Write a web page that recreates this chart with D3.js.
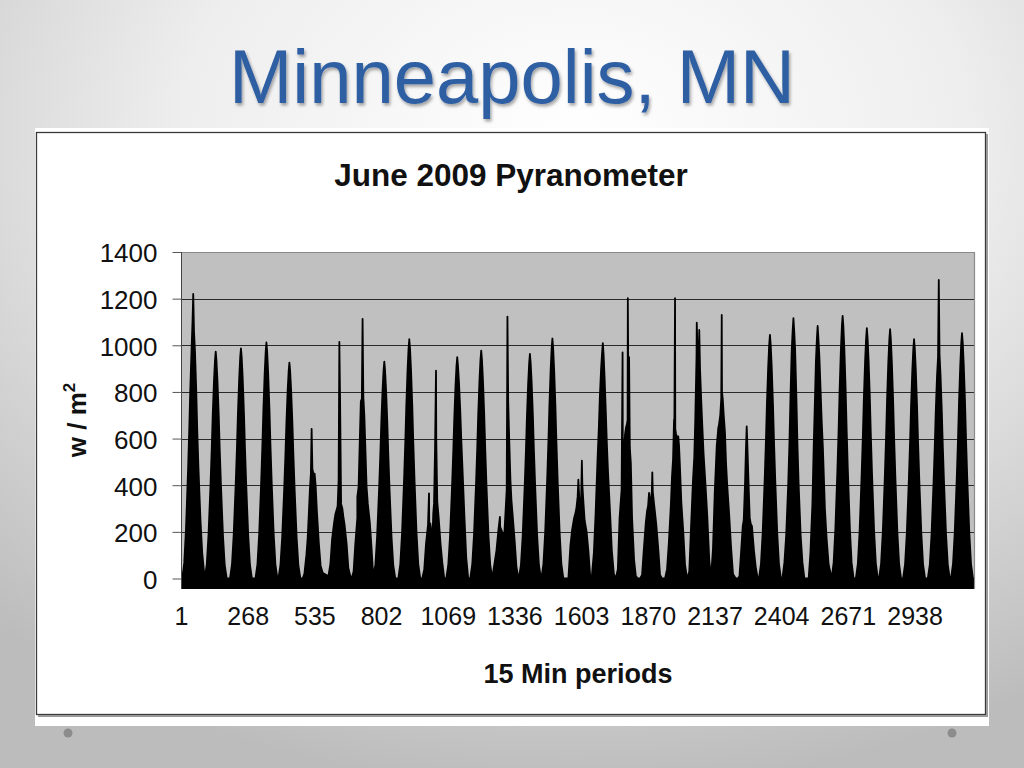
<!DOCTYPE html>
<html>
<head>
<meta charset="utf-8">
<title>Minneapolis, MN</title>
<script src="https://cdnjs.cloudflare.com/ajax/libs/d3/7.8.5/d3.min.js"></script>
<style>
    html, body { margin: 0; padding: 0; background: #fff; overflow: hidden; }
    svg { display: block; }
</style>
</head>
<body>
<div id="slide"></div>
<script>
(function drawSlide (window, d3, undefined) {
    "use strict";

    // category axis: 15 min periods, Excel labels every 267th one
    var xTicks = [1, 268, 535, 802, 1069, 1336, 1603, 1870, 2137, 2404, 2671, 2938],
        yTicks = [0, 200, 400, 600, 800, 1000, 1200, 1400],
        periodCount = 3176;

    // offsets (periods) from each day's peak where the curve was read
    var dayOffsets = [-44, -36, -29, -21, -16, -12, -7, -3, 0, 3, 7, 12, 16, 21, 29, 36, 44];

    // period of the peak of each day
    var dayPeaks = [50, 140, 241, 343, 435, 524, 635, 728, 815, 915, 1011, 1107, 1203, 1308,
        1398, 1488, 1596, 1690, 1786, 1883, 1983, 2072, 2167, 2266, 2359, 2453, 2550, 2650,
        2747, 2840, 2936, 3035, 3128];

    // w / m2 at the offsets above, one row per day
    var dayValues = [
        [0, 67, 213, 459, 638, 806, 974, 1100, 1220, 1060, 974, 806, 638, 470, 250, 110, 20],
        [0, 58, 185, 399, 555, 701, 847, 934, 973, 934, 847, 701, 555, 399, 185, 58, 0],
        [0, 59, 188, 405, 563, 711, 859, 948, 987, 948, 859, 711, 563, 405, 188, 59, 0],
        [0, 61, 192, 415, 577, 729, 880, 972, 1012, 972, 880, 729, 577, 415, 192, 61, 0],
        [0, 56, 176, 380, 528, 667, 806, 889, 926, 889, 806, 667, 528, 380, 176, 56, 0],
        [0, 0, 20, 100, 170, 260, 380, 450, 642, 470, 450, 450, 400, 290, 150, 55, 25],
        [10, 60, 170, 240, 275, 290, 310, 420, 1015, 757, 320, 300, 265, 230, 150, 45, 10],
        [0, 30, 150, 260, 393, 560, 760, 770, 1113, 780, 700, 530, 393, 320, 240, 130, 20],
        [0, 56, 177, 381, 530, 670, 809, 893, 930, 893, 809, 670, 530, 381, 177, 56, 0],
        [0, 62, 195, 421, 585, 739, 893, 985, 1026, 985, 893, 739, 585, 421, 195, 62, 0],
        [0, 40, 150, 230, 236, 236, 200, 180, 280, 320, 550, 600, 330, 270, 150, 70, 0],
        [0, 57, 180, 389, 541, 683, 826, 911, 949, 911, 840, 720, 600, 470, 260, 90, 0],
        [0, 59, 186, 401, 557, 703, 850, 938, 977, 938, 850, 703, 557, 401, 186, 59, 0],
        [120, 210, 220, 200, 190, 200, 300, 380, 1123, 760, 600, 420, 336, 270, 160, 50, 0],
        [0, 58, 183, 395, 549, 693, 838, 924, 963, 924, 838, 693, 549, 395, 183, 58, 0],
        [0, 62, 196, 422, 587, 741, 895, 988, 1029, 988, 895, 741, 587, 422, 196, 62, 0],
        [0, 140, 210, 260, 280, 300, 350, 400, 340, 330, 340, 400, 330, 250, 200, 120, 0],
        [10, 110, 280, 520, 650, 780, 900, 970, 1009, 960, 860, 710, 580, 450, 280, 120, 20],
        [0, 40, 260, 380, 470, 540, 620, 650, 660, 680, 630, 560, 495, 260, 80, 10, 0],
        [0, 15, 125, 240, 290, 310, 330, 330, 350, 370, 370, 320, 281, 230, 125, 15, 0],
        [0, 40, 150, 310, 440, 510, 600, 640, 620, 610, 600, 570, 470, 330, 200, 60, 0],
        [0, 30, 220, 424, 520, 680, 950, 980, 970, 990, 900, 760, 660, 540, 400, 270, 80],
        [0, 130, 370, 570, 630, 660, 700, 770, 800, 770, 700, 624, 500, 400, 270, 140, 20],
        [0, 0, 10, 139, 224, 250, 400, 560, 652, 560, 420, 260, 235, 224, 120, 50, 0],
        [0, 63, 199, 428, 596, 752, 909, 1003, 1045, 1003, 909, 752, 596, 428, 199, 63, 0],
        [0, 70, 185, 400, 580, 770, 975, 1065, 1116, 1065, 975, 770, 580, 400, 185, 70, 0],
        [0, 0, 110, 320, 560, 720, 930, 1030, 1083, 1030, 950, 800, 680, 560, 300, 170, 60],
        [0, 68, 214, 462, 642, 811, 980, 1081, 1126, 1081, 980, 811, 642, 462, 214, 68, 0],
        [0, 64, 204, 440, 612, 773, 934, 1030, 1073, 1030, 934, 773, 612, 440, 204, 64, 0],
        [0, 64, 203, 438, 609, 770, 930, 1026, 1069, 1026, 930, 770, 609, 438, 203, 64, 0],
        [0, 62, 195, 421, 585, 739, 893, 985, 1026, 985, 893, 739, 585, 421, 195, 62, 0],
        [0, 60, 190, 410, 570, 720, 870, 950, 1280, 960, 870, 720, 570, 410, 190, 60, 0],
        [0, 63, 200, 431, 600, 757, 915, 1010, 1052, 1010, 915, 757, 600, 431, 200, 63, 0]
    ];

    // single-period spikes (passing clouds / reflections)
    var spikePeriods = [707, 994, 1022, 1278, 1592, 1606, 1769, 1790, 1795, 1875, 1888,
        1975, 1979, 1992, 2066, 2076, 2152, 2166];
    var spikeValues = [350, 365, 891, 264, 424, 505, 969, 1202, 949, 367, 455,
        681, 1202, 609, 1097, 1066, 645, 1130];

    var width = 1024,
        height = 768,
        plot = {left: 181, right: 974, top: 252, bottom: 589},
        font = "'Liberation Sans', Arial, Helvetica, sans-serif",
        svg, defs, x, y;


    /**
     * Flattens the per-day readings and the spikes into one sorted series
     * @return {Array} [period, value] pairs
     */
    function buildSeries () {
        var pts = [[1, 0], [periodCount, 0]];
        dayPeaks.forEach(function (p, i) {
            dayOffsets.forEach(function (o, k) {
                pts.push([p + o, dayValues[i][k]]);
            });
        });
        spikePeriods.forEach(function (p, i) {
            pts.push([p, spikeValues[i]]);
        });
        return pts.sort(function (a, b) { return a[0] - b[0]; });
    }


    function drawBackground () {
        var bg = defs.append("radialGradient")
            .attr("id", "slideBg")
            .attr("cx", "0.56").attr("cy", "0.18").attr("r", "0.85");
        bg.append("stop").attr("offset", "0").attr("stop-color", "#ffffff");
        bg.append("stop").attr("offset", "0.45").attr("stop-color", "#eeeeee");
        bg.append("stop").attr("offset", "1").attr("stop-color", "#bcbcbc");

        var shadow = defs.append("filter").attr("id", "titleShadow")
            .attr("x", "-10%").attr("y", "-10%").attr("width", "120%").attr("height", "130%");
        shadow.append("feDropShadow")
            .attr("dx", 1.5).attr("dy", 2.5).attr("stdDeviation", 1.6)
            .attr("flood-color", "#000").attr("flood-opacity", 0.35);

        svg.append("rect")
            .attr("width", width).attr("height", height)
            .attr("fill", "url(#slideBg)");

        svg.append("text")
            .attr("x", 512).attr("y", 103)
            .attr("text-anchor", "middle")
            .attr("font-family", font)
            .attr("font-size", 76)
            .attr("fill", "#2f5ea3")
            .attr("filter", "url(#titleShadow)")
            .text("Minneapolis, MN");

        // bullet dots in the lower corners of the theme
        [68, 952].forEach(function (cx) {
            svg.append("circle")
                .attr("cx", cx).attr("cy", 733).attr("r", 4.5)
                .attr("fill", "#8c8c8c");
        });
    }


    function drawFrame () {
        svg.append("rect")
            .attr("x", 35).attr("y", 128)
            .attr("width", 954).attr("height", 598)
            .attr("fill", "#fff");
        svg.append("rect")
            .attr("x", 36.5).attr("y", 132.5)
            .attr("width", 949).attr("height", 582)
            .attr("fill", "none")
            .attr("stroke", "#3a3a3a")
            .attr("stroke-width", 1.3);
        // soft shadow on the right and bottom edge
        svg.append("path")
            .attr("d", "M987,134V716H38")
            .attr("fill", "none")
            .attr("stroke", "#9a9a9a")
            .attr("stroke-width", 2);
    }


    function drawChart () {
        var series = buildSeries(),
            g = svg.append("g"),
            area, line, yAxis, xAxis;

        x = d3.scaleLinear().domain([1, periodCount]).range([plot.left, plot.right]);
        y = d3.scaleLinear().domain([-45, 1400]).range([plot.bottom, plot.top]);

        g.append("rect")
            .attr("x", plot.left).attr("y", plot.top)
            .attr("width", plot.right - plot.left)
            .attr("height", plot.bottom - plot.top)
            .attr("fill", "#c0c0c0");

        g.append("g").selectAll("line")
            .data(yTicks.slice(1, -1))
            .join("line")
            .attr("x1", plot.left).attr("x2", plot.right)
            .attr("y1", function (d) { return Math.round(y(d)) + 0.5; })
            .attr("y2", function (d) { return Math.round(y(d)) + 0.5; })
            .attr("stroke", "#2a2a2a")
            .attr("stroke-width", 1.2);

        area = d3.area()
            .x(function (d) { return x(d[0]); })
            .y0(y(-45))
            .y1(function (d) { return y(d[1]); });
        line = d3.line()
            .x(function (d) { return x(d[0]); })
            .y(function (d) { return y(d[1]); });

        g.append("path")
            .datum(series)
            .attr("d", area)
            .attr("fill", "#000");
        g.append("path")
            .datum(series)
            .attr("d", line)
            .attr("fill", "none")
            .attr("stroke", "#000")
            .attr("stroke-width", 1.8)
            .attr("stroke-linejoin", "round");

        // plot border, top and right
        g.append("path")
            .attr("d", "M" + plot.left + "," + (plot.top + 0.5) + "H" + (plot.right + 0.5) + "V" + plot.bottom)
            .attr("fill", "none")
            .attr("stroke", "#8a8a8a")
            .attr("stroke-width", 1.2);

        yAxis = g.append("g")
            .attr("transform", "translate(" + (plot.left + 0.5) + ",0)")
            .call(d3.axisLeft(y).tickValues(yTicks).tickFormat(d3.format("d"))
                .tickSize(9).tickSizeOuter(0).tickPadding(15));
        yAxis.select(".domain")
            .attr("d", "M0," + plot.top + "V" + plot.bottom)
            .attr("stroke", "#444");
        yAxis.selectAll(".tick line").attr("stroke", "#555");
        yAxis.selectAll(".tick text")
            .attr("dy", "0.38em")
            .attr("font-family", font)
            .attr("font-size", 26)
            .attr("fill", "#111");

        xAxis = g.append("g")
            .attr("transform", "translate(0," + plot.bottom + ")")
            .call(d3.axisBottom(x).tickValues(xTicks).tickFormat(d3.format("d"))
                .tickSize(0).tickPadding(18));
        xAxis.select(".domain").remove();
        xAxis.selectAll(".tick text")
            .attr("font-family", font)
            .attr("font-size", 25)
            .attr("fill", "#111");

        // titles
        svg.append("text")
            .attr("x", 511).attr("y", 186)
            .attr("text-anchor", "middle")
            .attr("font-family", font)
            .attr("font-weight", "bold")
            .attr("font-size", 31.5)
            .attr("fill", "#111")
            .text("June 2009 Pyranometer");

        svg.append("text")
            .attr("x", 578).attr("y", 683)
            .attr("text-anchor", "middle")
            .attr("font-family", font)
            .attr("font-weight", "bold")
            .attr("font-size", 27)
            .attr("fill", "#111")
            .text("15 Min periods");

        var yLabel = svg.append("text")
            .attr("transform", "translate(86,420) rotate(-90)")
            .attr("text-anchor", "middle")
            .attr("font-family", font)
            .attr("font-weight", "bold")
            .attr("font-size", 26)
            .attr("fill", "#111");
        yLabel.append("tspan").text("w / m");
        yLabel.append("tspan")
            .attr("font-size", 17)
            .attr("dy", -11)
            .text("2");
    }


    svg = d3.select("#slide").append("svg")
        .attr("width", width)
        .attr("height", height);
    defs = svg.append("defs");

    drawBackground();
    drawFrame();
    drawChart();
})(window, window.d3);
</script>
</body>
</html>
